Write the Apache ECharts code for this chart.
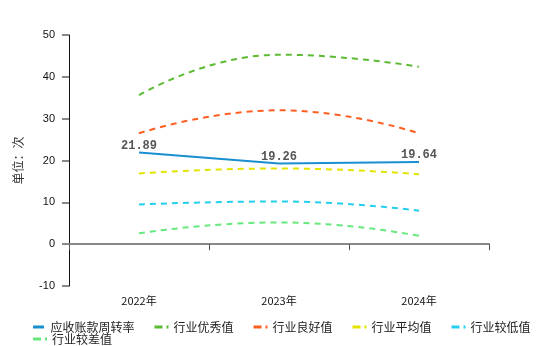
<!DOCTYPE html>
<html>
<head>
<meta charset="utf-8">
<script src="https://cdn.jsdelivr.net/npm/echarts@6/dist/echarts.min.js"></script>
<style>
  html, body { margin: 0; padding: 0; background: #fff; }
  #chart { width: 560px; height: 346px; }
</style>
</head>
<body>
<div id="chart"></div>
<script>
// Receivables turnover vs. industry benchmark bands
const years = ['2022年', '2023年', '2024年'];
const turnover = [21.89, 19.26, 19.64];
const excellent = [35.6, 45.3, 42.4];
const good = [26.5, 32.0, 26.5];
const average = [16.9, 18.1, 16.7];
const low = [9.5, 10.2, 8.0];
const poor = [2.6, 5.2, 2.0];

const seriesNames = ['应收账款周转率', '行业优秀值', '行业良好值', '行业平均值', '行业较低值', '行业较差值'];
const colors = ['#1a8fd0', '#5cbb32', '#ff5f22', '#e3e300', '#22cfee', '#66e87c'];

const cjk = '"Noto Sans CJK SC", sans-serif';

// legend glyphs: a solid bar for the actual series, dash + dot for benchmarks
const solidIcon = 'path://M0,0h11v3h-11z';
const dashIcon = 'path://M0,0h8v3h-8z M12,0h2v3h-2z';

function bench(name, data, color) {
  return {
    name: name,
    type: 'line',
    data: data,
    smooth: true,
    symbol: 'none',
    lineStyle: { color: color, width: 2, type: [6, 5] },
    itemStyle: { color: color }
  };
}

function legendItems(names) {
  return names.map(n => ({ name: n, icon: n === seriesNames[0] ? solidIcon : dashIcon }));
}

const legendBase = {
  padding: 0,
  itemWidth: 14,
  itemHeight: 3,
  itemGap: 20,
  textStyle: { fontFamily: cjk, fontSize: 12, color: '#222' }
};

const chart = echarts.init(document.getElementById('chart'));
chart.setOption({
  animation: false,
  color: colors,
  grid: { left: 69, right: 71, top: 35, bottom: 60 },
  legend: [
    Object.assign({ left: 33, top: 321, data: legendItems(seriesNames.slice(0, 5)) }, legendBase),
    Object.assign({ left: 33, top: 333, data: legendItems(seriesNames.slice(5)) }, legendBase)
  ],
  xAxis: {
    type: 'category',
    data: years,
    boundaryGap: true,
    axisLine: { lineStyle: { color: '#888', width: 2 } },
    axisTick: { show: true, length: 6, lineStyle: { color: '#555' } },
    axisLabel: { color: '#111', fontSize: 11, fontFamily: cjk, margin: 9 }
  },
  yAxis: {
    type: 'value',
    min: -10,
    max: 50,
    interval: 10,
    name: '单位：次',
    nameLocation: 'middle',
    nameGap: 45,
    nameTextStyle: { color: '#333', fontSize: 12, fontFamily: cjk },
    axisLine: { show: true, lineStyle: { color: '#111', width: 1 } },
    axisTick: { show: true, length: 7, lineStyle: { color: '#888', width: 2 } },
    axisLabel: { color: '#111', fontSize: 11, fontFamily: 'Liberation Sans, sans-serif', margin: 14 },
    splitLine: { show: false }
  },
  series: [
    {
      name: seriesNames[0],
      type: 'line',
      data: turnover,
      symbol: 'circle',
      symbolSize: 0,
      showSymbol: true,
      lineStyle: { color: colors[0], width: 2 },
      itemStyle: { color: colors[0] },
      label: {
        show: true,
        position: 'top',
        distance: 1,
        color: '#555',
        fontSize: 12,
        fontWeight: 'bold',
        fontFamily: '"Liberation Mono", monospace'
      },
      z: 5
    },
    bench(seriesNames[1], excellent, colors[1]),
    bench(seriesNames[2], good, colors[2]),
    bench(seriesNames[3], average, colors[3]),
    bench(seriesNames[4], low, colors[4]),
    bench(seriesNames[5], poor, colors[5])
  ]
});
</script>
</body>
</html>
